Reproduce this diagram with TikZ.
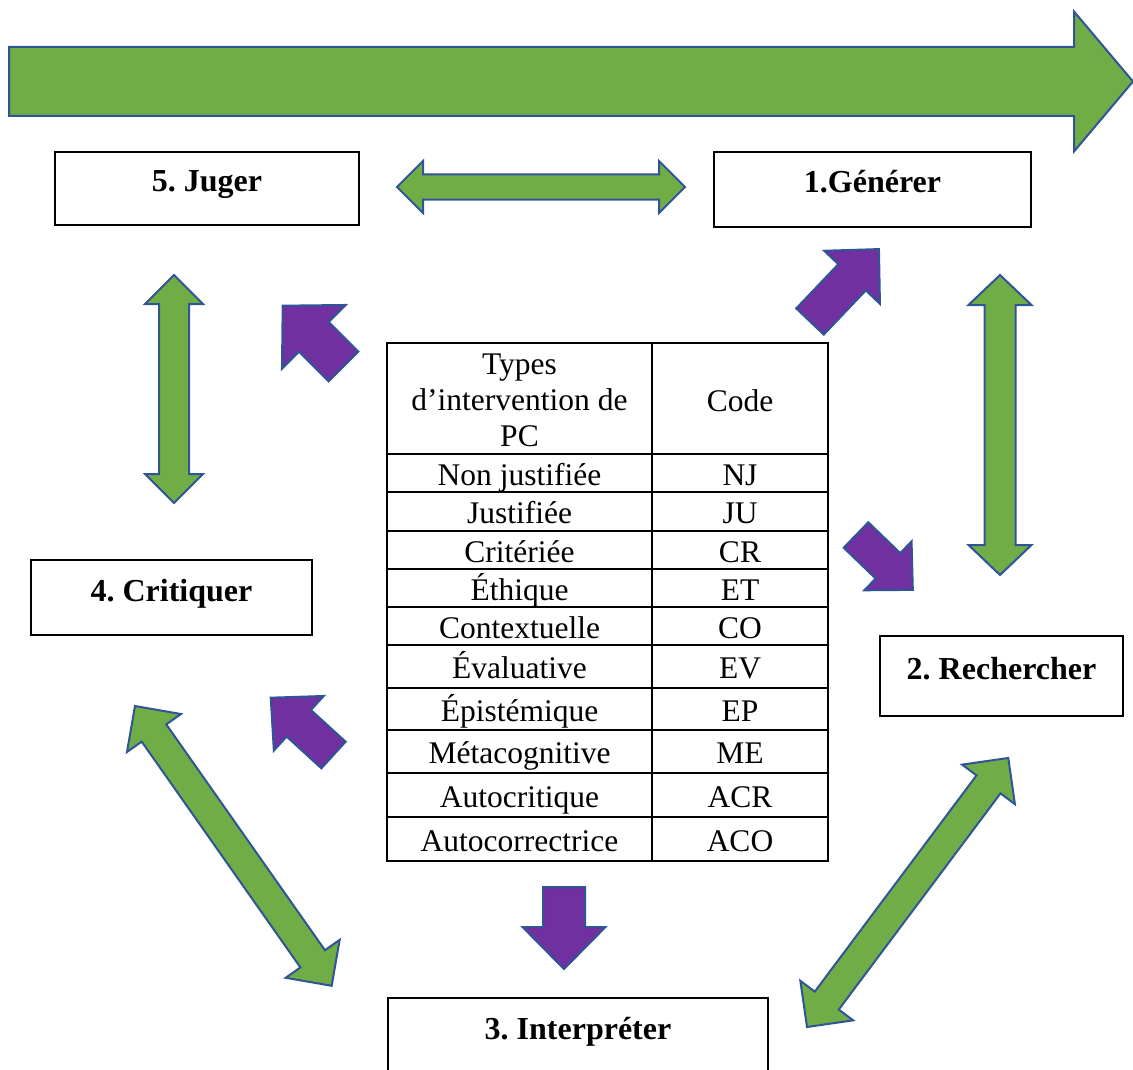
\documentclass[tikz,border=0pt]{standalone}
\usepackage{fontspec}
\setmainfont{Liberation Serif}
\usepackage{xcolor}
\usepackage{tikz}
\frenchspacing
\definecolor{leafgreen}{HTML}{70AD47}
\definecolor{grape}{HTML}{7030A0}
\definecolor{arrowline}{HTML}{2F5597}
\newcommand{\stagefont}{\fontsize{32}{36}\selectfont\bfseries}
\newcommand{\cellfont}{\fontsize{31.5}{36}\selectfont}
\tikzset{
	blockline/.style={draw=arrowline,line width=2pt,line join=miter},
	pics/oneway/.style args={#1/#2/#3/#4}{code={%
			\path[blockline,pic actions] (0,-#2) -- (#1-#4,-#2) -- (#1-#4,-#3) -- (#1,0)
			-- (#1-#4,#3) -- (#1-#4,#2) -- (0,#2) -- cycle;
	}},
	pics/twoway/.style args={#1/#2/#3/#4}{code={%
			\path[blockline,pic actions] (0,0) -- (#4,-#3) -- (#4,-#2) -- (#1-#4,-#2) -- (#1-#4,-#3)
			-- (#1,0) -- (#1-#4,#3) -- (#1-#4,#2) -- (#4,#2) -- (#4,#3) -- cycle;
	}},
	stagebox/.style={draw,line width=1.3pt,inner sep=0pt,font=\stagefont,text height=23pt,text depth=16pt},
	celltext/.style={anchor=base,inner sep=0pt,font=\cellfont},
	tablerule/.style={line width=1.8pt}
}

\begin{document}
\begin{tikzpicture}[x=1pt,y=-1pt]
		\useasboundingbox (0,0) rectangle (1133,1070);
		
		\pic[fill=leafgreen] at (9,81.5) {oneway=1124/34.5/70/59};
		\pic[fill=leafgreen] at (397,187) {twoway=288/12.5/26/26};
		\pic[fill=leafgreen,rotate=-90] at (174,275) {twoway=228/15/29/29};
		\pic[fill=leafgreen,rotate=-90] at (1000,275) {twoway=300/15.5/31.5/30};
		\pic[fill=leafgreen,rotate=-54.9] at (135,706) {twoway=342/15/33/33};
		\pic[fill=leafgreen,rotate=53.2] at (807,1027) {twoway=336/15/33/33};
		
		\pic[fill=grape,rotate=135] at (343.5,366.5) {oneway=86/21/45/44};
		\pic[fill=grape,rotate=46.4] at (810,321.5) {oneway=100/19/38.5/39};
		\pic[fill=grape,rotate=-44] at (856,535) {oneway=79/17.7/34/34.6};
		\pic[fill=grape,rotate=137.6] at (333.5,755) {oneway=85/18/37/38};
		\pic[fill=grape,rotate=-90] at (564,887) {oneway=82/21/41.5/42};
		
		\node[stagebox,minimum width=304,minimum height=73] (juger) at (207,188.5) {5. Juger};
		\node[stagebox,minimum width=317,minimum height=75] (generer) at (872.5,189.5) {1.Générer};
		\node[stagebox,minimum width=281,minimum height=75] (critiquer) at (171.5,597.5) {4. Critiquer};
		\node[stagebox,minimum width=243,minimum height=80] (rechercher) at (1001.5,676) {2. Rechercher};
		\node[stagebox,minimum width=380,minimum height=75] (interpreter) at (578,1035.5) {3. Interpréter};
		
		\draw[tablerule] (387,343) rectangle (828,861);
		\draw[tablerule] (652,343) -- (652,861);
		\draw[tablerule] (387,454) -- (828,454);
		\node[align=center,inner sep=0pt,font=\cellfont] (typehead) at (519.5,400) {Types\\d’intervention de\\PC};
		\node[celltext] (codehead) at (740,411.5) {Code};
		\foreach \rtop/\rbot/\kind/\abbr [count=\i] in {454/492/Non justifiée/NJ,492/531/Justifiée/JU,
			531/569/Critériée/CR,569/607/Éthique/ET,607/645/Contextuelle/CO,645/688/Évaluative/EV,
			688/730/Épistémique/EP,730/773/Métacognitive/ME,773/817/Autocritique/ACR,817/861/Autocorrectrice/ACO}{
			\draw[tablerule] (387,\rbot) -- (828,\rbot);
			\node[celltext] (type\i) at (519.5,{(\rtop+\rbot)/2+12}) {\kind};
			\node[celltext] (code\i) at (740,{(\rtop+\rbot)/2+12}) {\abbr};
		}
	\end{tikzpicture}
\end{document}
